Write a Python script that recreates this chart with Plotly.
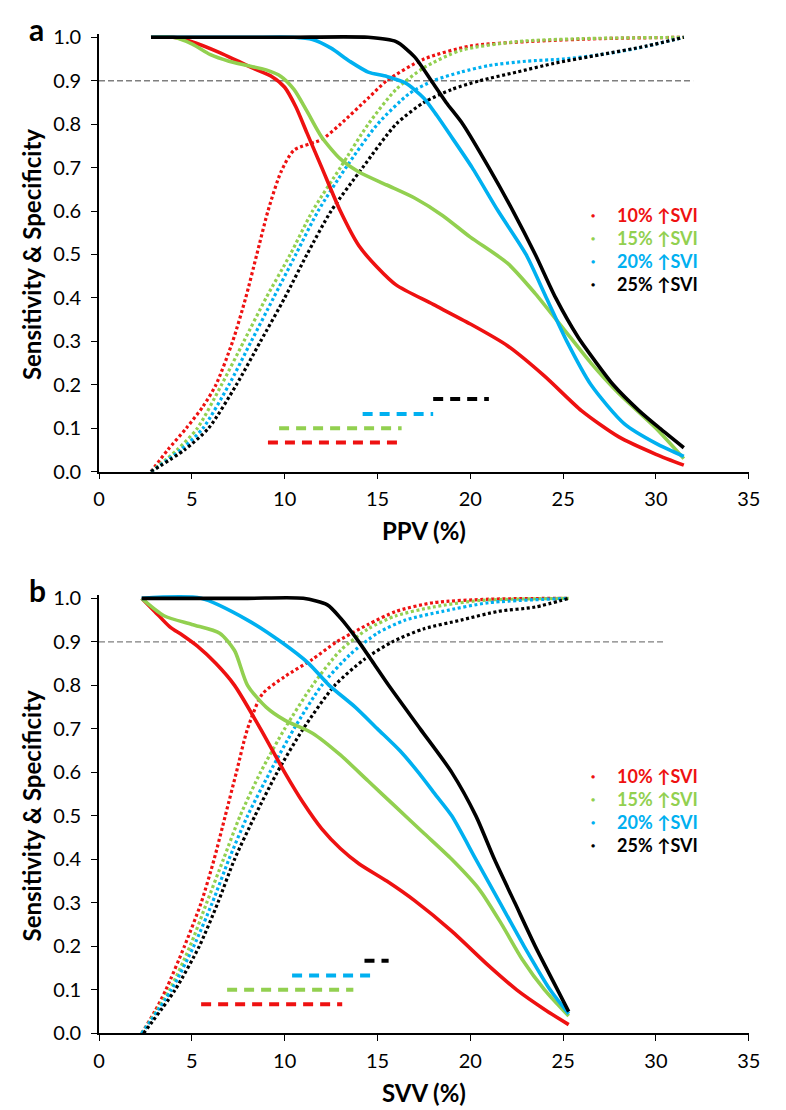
import plotly.graph_objects as go

# ---------------- Panel a : PPV (%) ----------------
a_sens10_x = [2.8, 4.0, 5.0, 6.5, 7.5, 8.5, 9.3, 10.0, 10.6, 11.2, 12.0, 13.0, 14.0, 15.0, 16.0, 18.0, 20.0, 22.0, 24.0, 26.0, 28.0, 30.0, 31.5]
a_sens10_y = [1.0, 1.0, 0.99, 0.965, 0.945, 0.925, 0.91, 0.885, 0.84, 0.78, 0.70, 0.60, 0.52, 0.47, 0.43, 0.385, 0.34, 0.29, 0.22, 0.14, 0.08, 0.04, 0.015]
a_sens15_x = [2.8, 4.0, 5.0, 6.0, 7.0, 8.0, 9.0, 9.8, 10.5, 11.2, 12.0, 13.0, 14.0, 15.5, 17.0, 18.5, 20.0, 22.0, 23.5, 25.0, 26.5, 28.0, 30.0, 31.5]
a_sens15_y = [1.0, 1.0, 0.985, 0.96, 0.945, 0.935, 0.925, 0.91, 0.88, 0.83, 0.77, 0.72, 0.69, 0.66, 0.63, 0.59, 0.54, 0.48, 0.41, 0.33, 0.25, 0.18, 0.10, 0.03]
a_sens20_x = [2.8, 8.0, 10.5, 11.5, 12.5, 13.5, 14.5, 15.5, 16.5, 17.5, 18.2, 19.0, 20.1, 21.5, 23.0, 24.1, 25.2, 26.5, 28.3, 30.0, 31.5]
a_sens20_y = [1.0, 1.0, 1.0, 0.995, 0.975, 0.945, 0.92, 0.91, 0.895, 0.86, 0.82, 0.77, 0.70, 0.60, 0.50, 0.40, 0.30, 0.20, 0.11, 0.065, 0.035]
a_sens25_x = [2.8, 10.0, 14.5, 16.0, 17.0, 17.9, 18.7, 19.6, 21.0, 22.3, 23.5, 24.6, 25.8, 26.8, 27.7, 29.1, 30.2, 31.5]
a_sens25_y = [1.0, 1.0, 1.0, 0.99, 0.955, 0.90, 0.85, 0.80, 0.70, 0.60, 0.50, 0.40, 0.31, 0.25, 0.20, 0.14, 0.10, 0.055]

a_spec10_x = [2.8, 3.7, 4.7, 5.6, 6.3, 7.2, 7.9, 8.5, 9.1, 9.8, 10.5, 12.0, 13.0, 14.5, 15.5, 17.5, 20.0, 23.0, 27.0, 31.5]
a_spec10_y = [0.0, 0.05, 0.10, 0.15, 0.20, 0.30, 0.40, 0.50, 0.60, 0.69, 0.74, 0.765, 0.80, 0.86, 0.90, 0.95, 0.98, 0.99, 0.997, 1.0]
a_spec15_x = [2.8, 4.2, 5.3, 6.6, 7.8, 9.0, 10.3, 11.5, 13.0, 14.5, 16.0, 17.5, 19.5, 22.5, 26.0, 31.5]
a_spec15_y = [0.0, 0.05, 0.10, 0.20, 0.30, 0.40, 0.50, 0.60, 0.70, 0.80, 0.88, 0.93, 0.97, 0.99, 0.997, 1.0]
a_spec20_x = [2.8, 4.4, 5.6, 7.0, 8.2, 9.4, 10.6, 11.8, 13.3, 15.0, 16.7, 18.0, 19.5, 21.0, 23.0, 25.0, 27.0, 29.0, 31.5]
a_spec20_y = [0.0, 0.05, 0.10, 0.20, 0.30, 0.40, 0.50, 0.60, 0.70, 0.80, 0.87, 0.90, 0.92, 0.935, 0.945, 0.95, 0.96, 0.975, 1.0]
a_spec25_x = [2.8, 4.6, 5.9, 7.4, 8.7, 10.0, 11.2, 12.5, 14.2, 16.0, 17.5, 19.0, 20.5, 22.5, 24.5, 27.0, 29.5, 31.5]
a_spec25_y = [0.0, 0.05, 0.10, 0.20, 0.30, 0.40, 0.50, 0.60, 0.70, 0.80, 0.85, 0.88, 0.90, 0.92, 0.94, 0.96, 0.98, 1.0]

# confidence-interval bars (panel a): start, end, level
a_ci_start = [9.1, 9.7, 14.2, 18.0]
a_ci_end = [16.1, 16.3, 18.0, 21.0]
a_ci_level = [0.067, 0.10, 0.133, 0.167]

# ---------------- Panel b : SVV (%) ----------------
b_sens10_x = [2.3, 3.0, 3.8, 4.5, 5.3, 6.3, 7.3, 8.7, 10.0, 11.0, 12.0, 13.0, 14.0, 15.5, 17.0, 19.0, 21.0, 22.5, 24.0, 25.3]
b_sens10_y = [1.0, 0.97, 0.935, 0.915, 0.89, 0.85, 0.80, 0.70, 0.60, 0.53, 0.47, 0.425, 0.39, 0.35, 0.305, 0.235, 0.155, 0.10, 0.055, 0.02]
b_sens15_x = [2.3, 3.5, 5.0, 6.5, 7.3, 8.0, 9.0, 10.0, 11.5, 13.0, 14.5, 16.0, 17.5, 19.0, 20.5, 21.7, 22.8, 24.0, 25.3]
b_sens15_y = [1.0, 0.96, 0.94, 0.92, 0.88, 0.80, 0.75, 0.72, 0.69, 0.64, 0.58, 0.52, 0.46, 0.40, 0.33, 0.25, 0.17, 0.10, 0.04]
b_sens20_x = [2.3, 5.5, 8.0, 9.8, 11.3, 12.4, 13.8, 15.0, 16.2, 17.2, 18.1, 19.0, 20.3, 21.6, 22.9, 24.3, 25.3]
b_sens20_y = [1.0, 1.0, 0.95, 0.90, 0.85, 0.80, 0.75, 0.70, 0.65, 0.60, 0.55, 0.50, 0.40, 0.30, 0.20, 0.10, 0.045]
b_sens25_x = [2.3, 8.0, 11.0, 12.3, 13.0, 14.0, 14.8, 15.6, 17.3, 19.0, 20.3, 21.3, 22.4, 23.5, 24.7, 25.3]
b_sens25_y = [1.0, 1.0, 1.0, 0.985, 0.955, 0.90, 0.85, 0.80, 0.70, 0.60, 0.50, 0.40, 0.30, 0.20, 0.10, 0.05]

b_spec10_x = [2.3, 3.0, 3.6, 4.6, 5.5, 6.2, 6.8, 7.4, 8.0, 8.8, 10.0, 11.5, 12.8, 14.5, 16.0, 18.0, 21.0, 25.3]
b_spec10_y = [0.0, 0.05, 0.10, 0.20, 0.30, 0.40, 0.50, 0.60, 0.70, 0.78, 0.82, 0.86, 0.90, 0.94, 0.97, 0.99, 0.998, 1.0]
b_spec15_x = [2.3, 3.8, 4.9, 5.8, 6.7, 7.6, 8.7, 10.0, 11.5, 13.0, 14.5, 16.0, 18.0, 20.5, 25.3]
b_spec15_y = [0.0, 0.10, 0.20, 0.30, 0.40, 0.50, 0.60, 0.70, 0.80, 0.88, 0.93, 0.96, 0.98, 0.995, 1.0]
b_spec20_x = [2.3, 3.9, 5.1, 6.1, 7.0, 8.0, 9.2, 10.5, 12.0, 13.5, 15.0, 16.5, 18.5, 21.0, 25.3]
b_spec20_y = [0.0, 0.10, 0.20, 0.30, 0.40, 0.50, 0.60, 0.70, 0.80, 0.87, 0.92, 0.95, 0.97, 0.99, 1.0]
b_spec25_x = [2.4, 4.1, 5.4, 6.4, 7.3, 8.4, 9.6, 11.0, 12.7, 14.3, 15.8, 17.5, 19.5, 21.5, 23.5, 25.3]
b_spec25_y = [0.0, 0.10, 0.20, 0.30, 0.40, 0.50, 0.60, 0.70, 0.80, 0.86, 0.90, 0.93, 0.95, 0.97, 0.98, 1.0]

b_ci_start = [5.5, 6.9, 10.4, 14.3]
b_ci_end = [13.1, 13.7, 14.9, 15.6]
b_ci_level = [0.067, 0.10, 0.133, 0.167]

# ---------------- common ----------------
groups = ["10% ↑SVI", "15% ↑SVI", "20% ↑SVI", "25% ↑SVI"]
colors = ["#EE1111", "#92D050", "#00B0F0", "#000000"]
threshold = 0.9
a_threshold_end = 32.0
b_threshold_end = 30.4
x_ticks = [0, 5, 10, 15, 20, 25, 30, 35]
y_ticks = [0.0, 0.1, 0.2, 0.3, 0.4, 0.5, 0.6, 0.7, 0.8, 0.9, 1.0]
legend_y = [0.592, 0.539, 0.486, 0.433]
legend_dot_x = 26.6
legend_text_x = 27.8

FONT = "Lato, 'Open Sans', sans-serif"
W, H = 786, 1110

# pixel layout of the two panels
X0, X1 = 87, 752
A_TOP, A_BOT = 20.7, 463
B_TOP, B_BOT = 592, 1035
YMAX = 1.008

fig = go.Figure()

panels = [
    dict(xa="x", ya="y", top=A_TOP, bot=A_BOT, letter="a", xtitle="PPV (%)",
         sens=[(a_sens10_x, a_sens10_y), (a_sens15_x, a_sens15_y), (a_sens20_x, a_sens20_y), (a_sens25_x, a_sens25_y)],
         spec=[(a_spec10_x, a_spec10_y), (a_spec15_x, a_spec15_y), (a_spec20_x, a_spec20_y), (a_spec25_x, a_spec25_y)],
         ci=(a_ci_start, a_ci_end, a_ci_level), thr_end=a_threshold_end),
    dict(xa="x2", ya="y2", top=B_TOP, bot=B_BOT, letter="b", xtitle="SVV (%)",
         sens=[(b_sens10_x, b_sens10_y), (b_sens15_x, b_sens15_y), (b_sens20_x, b_sens20_y), (b_sens25_x, b_sens25_y)],
         spec=[(b_spec10_x, b_spec10_y), (b_spec15_x, b_spec15_y), (b_spec20_x, b_spec20_y), (b_spec25_x, b_spec25_y)],
         ci=(b_ci_start, b_ci_end, b_ci_level), thr_end=b_threshold_end),
]

annotations = []
for p in panels:
    fig.add_trace(go.Scatter(x=[0, p["thr_end"]], y=[threshold, threshold], mode="lines",
                             line=dict(color="#7F7F7F", width=1.3, dash="6px,3px"),
                             xaxis=p["xa"], yaxis=p["ya"], showlegend=False, hoverinfo="skip"))
    for (xs, ys), c in zip(p["spec"], colors):
        fig.add_trace(go.Scatter(x=xs, y=ys, mode="lines",
                                 line=dict(color=c, width=3.2, dash="3px,2.6px", shape="spline", smoothing=0.7),
                                 xaxis=p["xa"], yaxis=p["ya"], showlegend=False))
    for (xs, ys), c in zip(p["sens"], colors):
        fig.add_trace(go.Scatter(x=xs, y=ys, mode="lines",
                                 line=dict(color=c, width=3.6, shape="spline", smoothing=0.7),
                                 xaxis=p["xa"], yaxis=p["ya"], showlegend=False))
    s, e, lv = p["ci"]
    for x0, x1, yv, c in zip(s, e, lv, colors):
        fig.add_trace(go.Scatter(x=[x0, x1], y=[yv, yv], mode="lines",
                                 line=dict(color=c, width=4, dash="10px,7px"),
                                 xaxis=p["xa"], yaxis=p["ya"], showlegend=False))
    for g, c, yv in zip(groups, colors, legend_y):
        annotations.append(dict(x=legend_dot_x, y=yv, xref=p["xa"], yref=p["ya"], text="●", showarrow=False,
                                font=dict(size=7, color=c, family=FONT), xanchor="center", yanchor="middle"))
        annotations.append(dict(x=legend_text_x, y=yv, xref=p["xa"], yref=p["ya"], text="<b>%s</b>" % g, showarrow=False,
                                font=dict(size=18, color=c, family=FONT), xanchor="left", yanchor="middle"))
    annotations.append(dict(x=18 / W, y=1 - (p["top"] + p["bot"]) / 2 / H, xref="paper", yref="paper",
                            text="<b>Sensitivity & Specificity</b>", textangle=-90, showarrow=False,
                            font=dict(size=24, family=FONT, color="black"), xanchor="center", yanchor="middle"))
    annotations.append(dict(x=(X0 + X1) / 2 / W, y=1 - (p["bot"] + 60) / H, xref="paper", yref="paper",
                            text="<b>%s</b>" % p["xtitle"], showarrow=False,
                            font=dict(size=24, family=FONT, color="black"), xanchor="center", yanchor="middle"))
    annotations.append(dict(x=13 / W, y=1 - (p["top"] + 12) / H, xref="paper", yref="paper",
                            text="<b>%s</b>" % p["letter"], showarrow=False,
                            font=dict(size=30, family=FONT, color="black"), xanchor="left", yanchor="bottom"))

axis_common = dict(showline=True, linecolor="black", linewidth=1.6, ticks="outside", ticklen=6, tickwidth=1.3,
                   tickcolor="black", showgrid=False, zeroline=False,
                   tickfont=dict(size=20, family=FONT, color="black"))

def ydom(top, bot):
    top_px = top - (YMAX - 1.0) * (bot - top)
    return [1 - bot / H, 1 - top_px / H]

fig.update_layout(
    width=W, height=H, paper_bgcolor="white", plot_bgcolor="white",
    margin=dict(l=0, r=0, t=0, b=0), showlegend=False,
    xaxis=dict(domain=[X0 / W, X1 / W], anchor="y", range=[0, 35], tickvals=x_ticks, ticklabelstandoff=3, **axis_common),
    yaxis=dict(domain=ydom(A_TOP, A_BOT), anchor="x", range=[0, YMAX], tickvals=y_ticks, tickformat=".1f",
               ticklabelstandoff=6, **axis_common),
    xaxis2=dict(domain=[X0 / W, X1 / W], anchor="y2", range=[0, 35], tickvals=x_ticks, ticklabelstandoff=3, **axis_common),
    yaxis2=dict(domain=ydom(B_TOP, B_BOT), anchor="x2", range=[0, YMAX], tickvals=y_ticks, tickformat=".1f",
                ticklabelstandoff=6, **axis_common),
    annotations=annotations,
)

fig.write_html("out.html")
